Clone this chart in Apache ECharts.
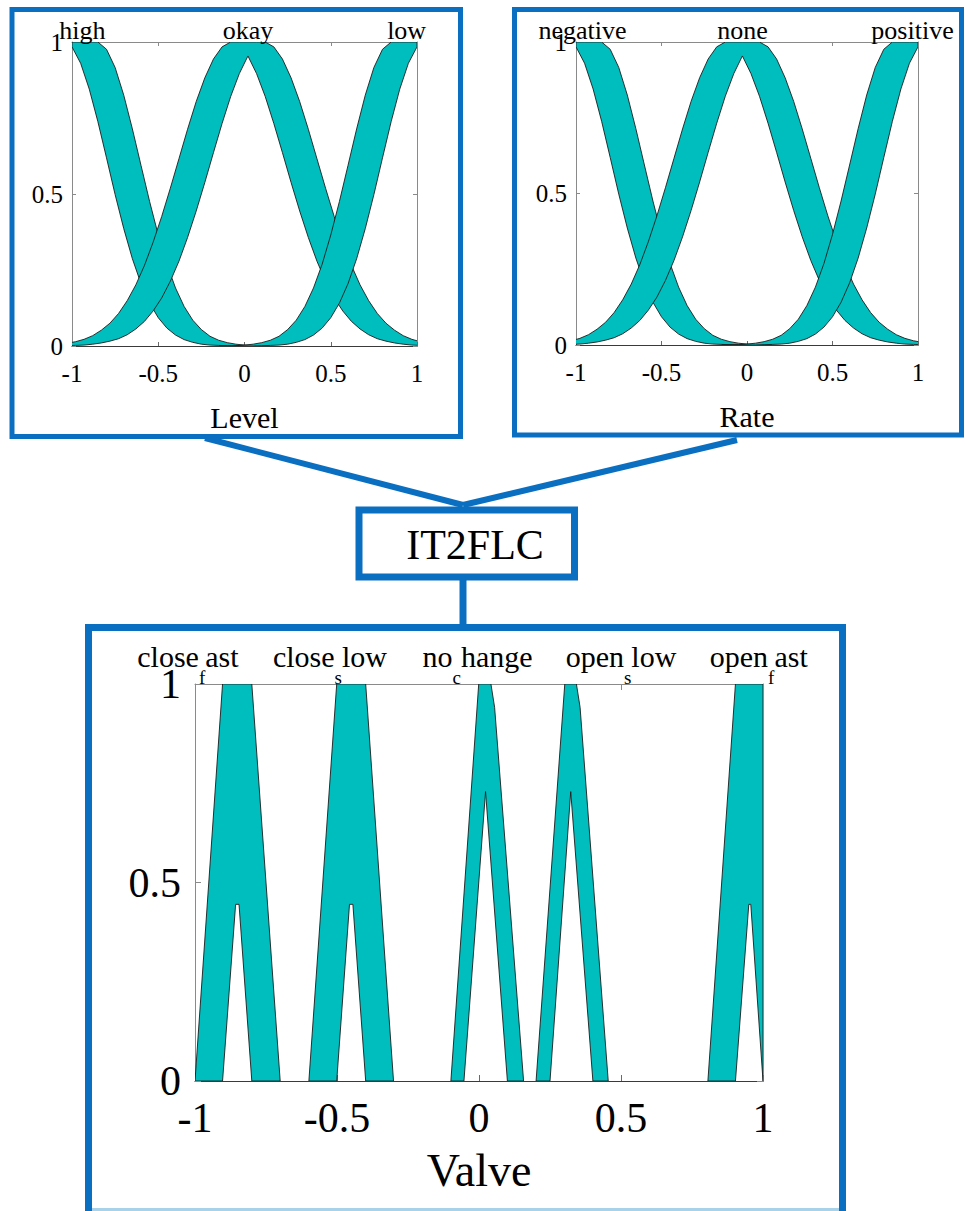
<!DOCTYPE html>
<html>
<head>
<meta charset="utf-8">
<script src="https://cdn.jsdelivr.net/npm/echarts@6/dist/echarts.min.js"></script>
<style>
  html, body { margin: 0; padding: 0; background: #ffffff; }
  #chart { width: 965px; height: 1211px; }
</style>
</head>
<body>
<div id="chart"></div>
<script>
// ---------- membership functions: Level / Rate inputs (interval type-2, Gaussian-like) ----------

// left shoulder set (high / negative)
const leftX     = [-1, -0.95, -0.9, -0.85, -0.8, -0.75, -0.7, -0.65, -0.6, -0.55, -0.5, -0.45, -0.4, -0.35, -0.3, -0.25, -0.2, -0.15, -0.1, -0.05, 0, 0.05, 0.1, 0.15];
const leftUpper = [1, 1, 1, 1, 0.976, 0.916, 0.825, 0.714, 0.594, 0.475, 0.365, 0.269, 0.191, 0.130, 0.085, 0.054, 0.032, 0.019, 0.011, 0.006, 0.003, 0.001, 0.001, 0];
const leftLower = [0.984, 0.930, 0.845, 0.738, 0.619, 0.498, 0.386, 0.287, 0.205, 0.141, 0.093, 0.059, 0.036, 0.021, 0.012, 0.006, 0.003, 0.002, 0.001, 0, 0, 0, 0, 0];

// right shoulder set (low / positive)
const rightX     = [-0.15, -0.1, -0.05, 0, 0.05, 0.1, 0.15, 0.2, 0.25, 0.3, 0.35, 0.4, 0.45, 0.5, 0.55, 0.6, 0.65, 0.7, 0.75, 0.8, 0.85, 0.9, 0.95, 1];
const rightUpper = [0, 0.001, 0.001, 0.003, 0.006, 0.011, 0.019, 0.032, 0.054, 0.085, 0.130, 0.191, 0.269, 0.365, 0.475, 0.594, 0.714, 0.825, 0.916, 0.976, 1, 1, 1, 1];
const rightLower = [0, 0, 0, 0, 0, 0.001, 0.002, 0.003, 0.006, 0.012, 0.021, 0.036, 0.059, 0.093, 0.141, 0.205, 0.287, 0.386, 0.498, 0.619, 0.738, 0.845, 0.930, 0.984];

// middle set (okay / none): upper and lower bounds
const midUpper = [0.009, 0.014, 0.022, 0.034, 0.052, 0.075, 0.107, 0.149, 0.201, 0.265, 0.341, 0.426, 0.519, 0.616, 0.713, 0.804, 0.882, 0.944, 0.984, 1, 1, 1, 1, 1, 0.984, 0.944, 0.882, 0.804, 0.713, 0.616, 0.519, 0.426, 0.341, 0.265, 0.201, 0.149, 0.107, 0.075, 0.052, 0.034, 0.022, 0.014, 0.009];
const midLower = [0.001, 0.002, 0.003, 0.006, 0.010, 0.016, 0.024, 0.037, 0.056, 0.081, 0.115, 0.158, 0.213, 0.279, 0.357, 0.444, 0.538, 0.636, 0.732, 0.821, 0.896, 0.954, 0.896, 0.821, 0.732, 0.636, 0.538, 0.444, 0.357, 0.279, 0.213, 0.158, 0.115, 0.081, 0.056, 0.037, 0.024, 0.016, 0.010, 0.006, 0.003, 0.002, 0.001];
const okayX = [-1.03, -0.98, -0.93, -0.88, -0.83, -0.78, -0.73, -0.68, -0.63, -0.58, -0.53, -0.48, -0.43, -0.38, -0.33, -0.28, -0.23, -0.18, -0.13, -0.08, -0.03, 0.02, 0.07, 0.12, 0.17, 0.22, 0.27, 0.32, 0.37, 0.42, 0.47, 0.52, 0.57, 0.62, 0.67, 0.72, 0.77, 0.82, 0.87, 0.92, 0.97, 1.02, 1.07];
const noneX = [-1.077, -1.027, -0.977, -0.927, -0.877, -0.827, -0.777, -0.727, -0.677, -0.627, -0.577, -0.527, -0.477, -0.427, -0.377, -0.327, -0.277, -0.227, -0.177, -0.127, -0.077, -0.027, 0.023, 0.073, 0.123, 0.173, 0.223, 0.273, 0.323, 0.373, 0.423, 0.473, 0.523, 0.573, 0.623, 0.673, 0.723, 0.773, 0.823, 0.873, 0.923, 0.973, 1.023];

const levelNames  = ['high', 'okay', 'low'];
const levelLabelX = [-0.94, 0.02, 0.94];
const rateNames   = ['negative', 'none', 'positive'];
const rateLabelX  = [-0.962, -0.026, 0.968];

// ---------- membership functions: Valve output (trapezoid / triangle) ----------
// upper MF corner points and lower MF corner points, [x, degree]
const closeFastUpper = [[-1, 0], [-0.903, 1], [-0.8, 1], [-0.7, 0]];
const closeFastLower = [[-0.903, 0], [-0.857, 0.445], [-0.845, 0.445], [-0.8, 0]];
const closeSlowUpper = [[-0.599, 0], [-0.501, 1], [-0.399, 1], [-0.301, 0]];
const closeSlowLower = [[-0.501, 0], [-0.456, 0.445], [-0.444, 0.445], [-0.399, 0]];
const noChangeUpper  = [[-0.099, 0], [-0.001, 1], [0.042, 1], [0.055, 0.941], [0.157, 0]];
const noChangeLower  = [[-0.053, 0], [0.023, 0.729], [0.1, 0]];
const openSlowUpper  = [[0.201, 0], [0.302, 1], [0.343, 1], [0.356, 0.941], [0.455, 0]];
const openSlowLower  = [[0.25, 0], [0.323, 0.729], [0.401, 0]];
const openFastUpper  = [[0.806, 0], [0.903, 1], [1, 1], [1, 0]];
const openFastLower  = [[0.903, 0], [0.95, 0.445], [0.957, 0.445], [1, 0]];

// names typeset as base + subscript letter + rest
const valveNames  = [['close', 'f', 'ast'], ['close', 's', 'low'], ['no', 'c', 'hange'], ['open', 's', 'low'], ['open', 'f', 'ast']];
const valveLabelX = [-1.025, -0.525, -0.005, 0.5, 0.985];

// ---------- styling ----------
const FONT = '"Liberation Serif", "Times New Roman", serif';
const TEAL = '#00bebe';
const EDGE = '#1c1c1c';
const BLUE = '#0a6fc0';
const NAME_SIZE = 30;
const SUB_SIZE = 19;

const levelBands = [
  { x: leftX, upper: leftUpper, lower: leftLower },
  { x: okayX, upper: midUpper, lower: midLower },
  { x: rightX, upper: rightUpper, lower: rightLower }
];
const rateBands = [
  { x: leftX, upper: leftUpper, lower: leftLower },
  { x: noneX, upper: midUpper, lower: midLower },
  { x: rightX, upper: rightUpper, lower: rightLower }
];
const valveBands = [
  { upper: closeFastUpper, lower: closeFastLower },
  { upper: closeSlowUpper, lower: closeSlowLower },
  { upper: noChangeUpper,  lower: noChangeLower },
  { upper: openSlowUpper,  lower: openSlowLower },
  { upper: openFastUpper,  lower: openFastLower }
];

const measureCtx = document.createElement('canvas').getContext('2d');
function textWidth(str, size) {
  measureCtx.font = size + 'px ' + FONT;
  return measureCtx.measureText(str).width;
}

// footprint of uncertainty: region between upper and lower MF
function sampledBand(bands) {
  return function (params, api) {
    const b = bands[params.dataIndex];
    const top = b.x.map((x, i) => api.coord([x, b.upper[i]]));
    const bottom = b.x.map((x, i) => api.coord([x, b.lower[i]])).reverse();
    return {
      type: 'polygon',
      shape: { points: top.concat(bottom) },
      style: { fill: TEAL, stroke: EDGE, lineWidth: 0.9 }
    };
  };
}
function cornerBand(bands) {
  return function (params, api) {
    const b = bands[params.dataIndex];
    const pts = b.upper.map(p => api.coord(p))
      .concat(b.lower.slice().reverse().map(p => api.coord(p)));
    return {
      type: 'polygon',
      shape: { points: pts },
      style: { fill: TEAL, stroke: EDGE, lineWidth: 0.9 }
    };
  };
}
function plainLabels(names, xs, size) {
  return function (params, api) {
    const i = params.dataIndex;
    const p = api.coord([xs[i], 1]);
    return {
      type: 'text', x: p[0], y: p[1] + 1,
      style: {
        text: names[i], fontFamily: FONT, fontSize: size, lineHeight: size,
        fill: '#000', align: 'center', verticalAlign: 'bottom'
      }
    };
  };
}
// base text, a lowered small letter, then the rest of the name
function subLabels(names, xs) {
  return function (params, api) {
    const i = params.dataIndex;
    const p = api.coord([xs[i], 1]);
    const n = names[i];
    const w0 = textWidth(n[0], NAME_SIZE);
    const w1 = textWidth(n[1], SUB_SIZE);
    const w2 = textWidth(n[2], NAME_SIZE);
    const left = p[0] - (w0 + w1 + w2) / 2;
    const yMain = p[1] - 28;
    const ySub = p[1] - 7;
    const base = { fontFamily: FONT, fill: '#000', align: 'left', verticalAlign: 'middle' };
    return {
      type: 'group',
      children: [
        { type: 'text', x: left, y: yMain,
          style: Object.assign({ text: n[0], fontSize: NAME_SIZE, lineHeight: NAME_SIZE }, base) },
        { type: 'text', x: left + w0, y: ySub,
          style: Object.assign({ text: n[1], fontSize: SUB_SIZE, lineHeight: SUB_SIZE }, base) },
        { type: 'text', x: left + w0 + w1, y: yMain,
          style: Object.assign({ text: n[2], fontSize: NAME_SIZE, lineHeight: NAME_SIZE }, base) }
      ]
    };
  };
}

// ---------- axes ----------
function xBottom(g, size, margin, name, nameSize, nameGap, tick) {
  return {
    gridIndex: g, type: 'value', min: -1, max: 1, interval: 0.5, position: 'bottom',
    axisLine: { onZero: false, lineStyle: { color: '#3a3a3a', width: 1.2 } },
    axisTick: { inside: true, length: tick, lineStyle: { color: '#6a6a6a' } },
    splitLine: { show: false },
    axisLabel: { fontFamily: FONT, fontSize: size, lineHeight: size, color: '#000', margin: margin },
    name: name, nameLocation: 'middle', nameGap: nameGap,
    nameTextStyle: { fontFamily: FONT, fontSize: nameSize, lineHeight: nameSize, color: '#000' }
  };
}
function xTop(g, tick) {
  return {
    gridIndex: g, type: 'value', min: -1, max: 1, interval: 0.5, position: 'top',
    axisLine: { onZero: false, lineStyle: { color: '#8a8a8a', width: 1 } },
    axisTick: { inside: true, length: tick, lineStyle: { color: '#8a8a8a' } },
    splitLine: { show: false }, axisLabel: { show: false }
  };
}
function yLeft(g, size, margin, tick) {
  return {
    gridIndex: g, type: 'value', min: 0, max: 1, interval: 0.5, position: 'left',
    axisLine: { onZero: false, show: true, lineStyle: { color: '#8a8a8a', width: 1 } },
    axisTick: { show: true, inside: true, length: tick, lineStyle: { color: '#8a8a8a' } },
    splitLine: { show: false },
    axisLabel: { fontFamily: FONT, fontSize: size, lineHeight: Math.round(size * 0.68), color: '#000', margin: margin }
  };
}
function yRight(g, tick) {
  return {
    gridIndex: g, type: 'value', min: 0, max: 1, interval: 0.5, position: 'right',
    axisLine: { onZero: false, show: true, lineStyle: { color: '#8a8a8a', width: 1 } },
    axisTick: { show: true, inside: true, length: tick, lineStyle: { color: '#8a8a8a' } },
    splitLine: { show: false }, axisLabel: { show: false }
  };
}

const chart = echarts.init(document.getElementById('chart'), null, { renderer: 'svg' });

chart.setOption({
  animation: false,
  backgroundColor: '#ffffff',
  textStyle: { fontFamily: FONT },
  grid: [
    { left: 72,  top: 42,  width: 345, height: 304, outerBoundsMode: 'none' },
    { left: 576, top: 42,  width: 342, height: 303, outerBoundsMode: 'none' },
    { left: 195, top: 684, width: 568, height: 397, outerBoundsMode: 'none' }
  ],
  xAxis: [
    xBottom(0, 25, 15, 'Level', 30, 56, 4),
    xBottom(1, 25, 15, 'Rate', 30, 56, 4),
    xBottom(2, 42, 16, 'Valve', 46, 66, 6),
    xTop(0, 4), xTop(1, 4), xTop(2, 6)
  ],
  yAxis: [
    yLeft(0, 25, 9, 4), yLeft(1, 25, 9, 4), yLeft(2, 42, 14, 6),
    yRight(0, 4), yRight(1, 4), yRight(2, 6)
  ],
  series: [
    { type: 'custom', xAxisIndex: 0, yAxisIndex: 0, clip: true, silent: true,
      data: levelBands.map((b, i) => [i, 0]), renderItem: sampledBand(levelBands) },
    { type: 'custom', xAxisIndex: 1, yAxisIndex: 1, clip: true, silent: true,
      data: rateBands.map((b, i) => [i, 0]), renderItem: sampledBand(rateBands) },
    { type: 'custom', xAxisIndex: 2, yAxisIndex: 2, clip: true, silent: true,
      data: valveBands.map((b, i) => [i, 0]), renderItem: cornerBand(valveBands) },
    { type: 'custom', xAxisIndex: 0, yAxisIndex: 0, silent: true, z: 5,
      data: levelNames.map((n, i) => [i, 0]), renderItem: plainLabels(levelNames, levelLabelX, 26) },
    { type: 'custom', xAxisIndex: 1, yAxisIndex: 1, silent: true, z: 5,
      data: rateNames.map((n, i) => [i, 0]), renderItem: plainLabels(rateNames, rateLabelX, 26) },
    { type: 'custom', xAxisIndex: 2, yAxisIndex: 2, silent: true, z: 5,
      data: valveNames.map((n, i) => [i, 0]), renderItem: subLabels(valveNames, valveLabelX) }
  ],
  graphic: [
    // input panels
    { type: 'rect', shape: { x: 12, y: 9.5, width: 448.5, height: 427 },
      style: { fill: 'none', stroke: BLUE, lineWidth: 5 } },
    { type: 'rect', shape: { x: 514.5, y: 9.5, width: 447, height: 425.5 },
      style: { fill: 'none', stroke: BLUE, lineWidth: 5 } },
    // connectors into the controller
    { type: 'line', shape: { x1: 205, y1: 438, x2: 463, y2: 505 },
      style: { stroke: BLUE, lineWidth: 6 } },
    { type: 'line', shape: { x1: 737, y1: 440, x2: 463, y2: 505 },
      style: { stroke: BLUE, lineWidth: 6 } },
    // controller block
    { type: 'rect', shape: { x: 359, y: 510, width: 215.5, height: 67 },
      style: { fill: '#ffffff', stroke: BLUE, lineWidth: 7 } },
    { type: 'text', x: 475, y: 545,
      style: { text: 'IT2FLC', font: '42px ' + FONT, fontFamily: FONT, fontSize: 42, fill: '#000', align: 'center', verticalAlign: 'middle' } },
    { type: 'line', shape: { x1: 463, y1: 580, x2: 463, y2: 627 },
      style: { stroke: BLUE, lineWidth: 7 } },
    // output panel
    { type: 'rect', shape: { x: 88.5, y: 627.5, width: 754, height: 600 },
      style: { fill: 'none', stroke: BLUE, lineWidth: 7 } },
    { type: 'line', shape: { x1: 92, y1: 1209.5, x2: 839, y2: 1209.5 },
      style: { stroke: '#a8d2ea', lineWidth: 3 } }
  ]
});
</script>
</body>
</html>
